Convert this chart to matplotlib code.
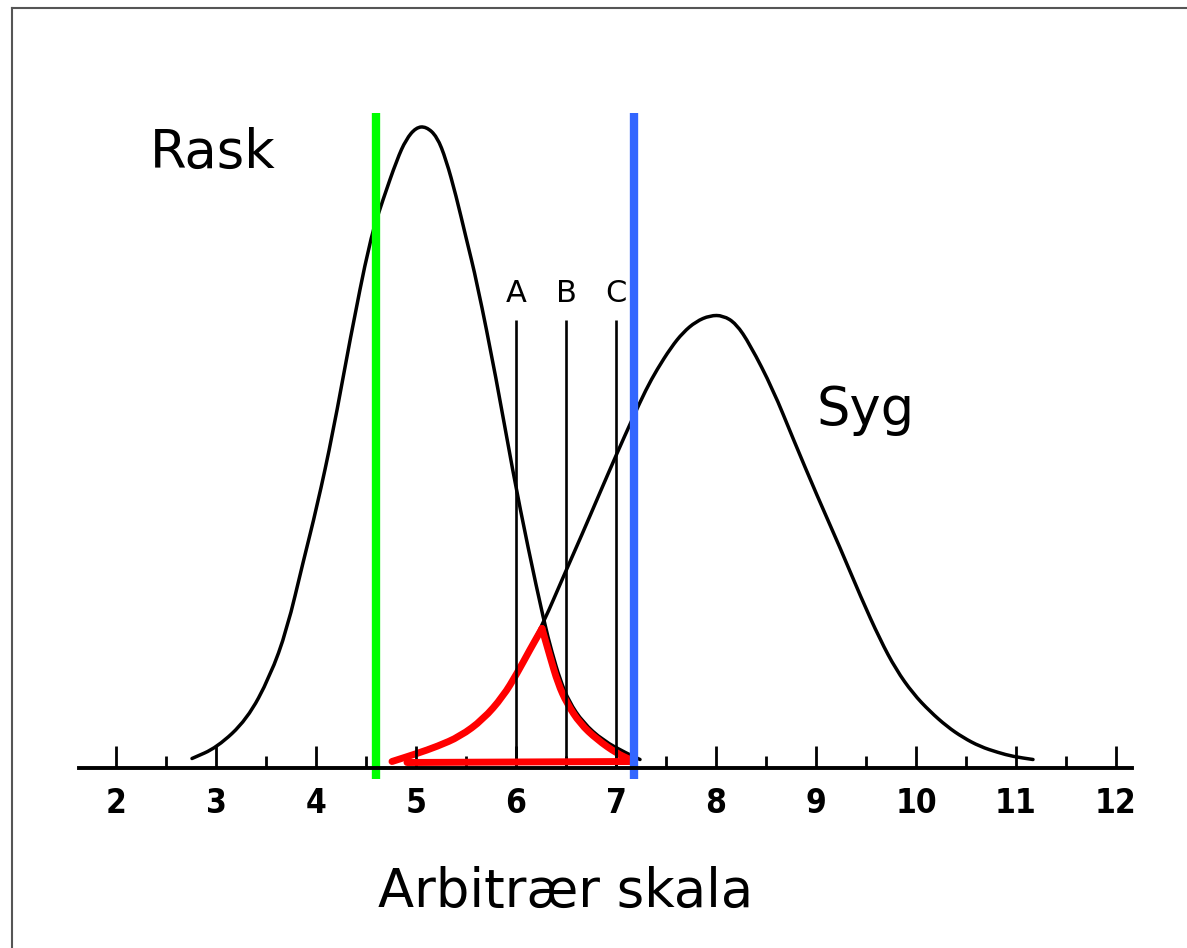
import numpy as np
import matplotlib
matplotlib.use("Agg")
import matplotlib.pyplot as plt
from matplotlib.lines import Line2D
from matplotlib.path import Path
from matplotlib.patches import PathPatch

# Rask fordeling
rask_x = [2.76, 3.01, 3.31, 3.54, 3.71, 3.87, 4.01, 4.17, 4.34, 4.54, 4.67, 4.81,
          4.90, 5.00, 5.10, 5.21, 5.30, 5.40, 5.50, 5.61, 5.80, 5.97, 6.12, 6.28,
          6.36, 6.44, 6.53, 6.67, 6.87, 7.11, 7.24]
rask_y = [0.09, 0.20, 0.48, 0.91, 1.38, 2.05, 2.61, 3.35, 4.28, 5.28, 5.68, 6.08,
          6.28, 6.40, 6.41, 6.31, 6.08, 5.72, 5.30, 4.85, 3.90, 2.95, 2.20, 1.46,
          1.15, 0.88, 0.66, 0.45, 0.27, 0.14, 0.08]

# Syg fordeling
syg_x = [4.77, 5.01, 5.21, 5.44, 5.67, 5.87, 6.01, 6.14, 6.28, 6.47, 6.66, 6.84,
         7.00, 7.17, 7.30, 7.41, 7.55, 7.67, 7.80, 7.94, 8.07, 8.20, 8.34, 8.57,
         8.77, 9.01, 9.24, 9.45, 9.64, 9.80, 9.97, 10.14, 10.31, 10.47, 10.64,
         10.82, 10.97, 11.17]
syg_y = [0.06, 0.15, 0.22, 0.32, 0.49, 0.72, 0.96, 1.19, 1.46, 1.90, 2.33, 2.75,
         3.12, 3.50, 3.78, 3.98, 4.20, 4.35, 4.46, 4.52, 4.52, 4.44, 4.23, 3.78,
         3.29, 2.72, 2.20, 1.70, 1.28, 0.98, 0.74, 0.56, 0.41, 0.30, 0.21, 0.15,
         0.11, 0.08]

# rød markering af overlap
roed_x = [4.91, 7.14, 7.14, 7.01, 6.81, 6.64, 6.51, 6.42, 6.34, 6.26, 6.14, 6.01,
          5.87, 5.67, 5.44, 5.21, 5.01, 4.76]
roed_y = [0.05, 0.06, 0.08, 0.14, 0.28, 0.44, 0.64, 0.84, 1.11, 1.39, 1.18, 0.94,
          0.71, 0.48, 0.31, 0.21, 0.14, 0.06]

graense_x = [6.0, 6.5, 7.0]
graense_navne = ["A", "B", "C"]
graense_top = 4.48

groen_x = 4.6
blaa_x = 7.18

hoved_ticks = list(range(2, 13))
mellem_ticks = [2.5, 3.5, 4.5, 5.5, 6.5, 7.5, 8.5, 9.5, 10.5, 11.5]


def blød_kurve(ax, xs, ys, **kw):
    # kvadratiske bezier-stykker mellem midtpunkter, så kurven bliver glat
    p = np.column_stack([xs, ys])
    verts = [p[0], (p[0] + p[1]) / 2]
    codes = [Path.MOVETO, Path.LINETO]
    for i in range(1, len(p) - 1):
        verts += [p[i], (p[i] + p[i + 1]) / 2]
        codes += [Path.CURVE3, Path.CURVE3]
    verts.append(p[-1])
    codes.append(Path.LINETO)
    ax.add_patch(PathPatch(Path(verts, codes), fill=False, **kw))


fig = plt.figure(figsize=(11.87, 9.48), dpi=100)
ax = fig.add_axes([0, 0, 1, 1])
ax.set_xlim(0.84, 12.71)
ax.set_ylim(-1.805, 7.675)

for s in ["left", "right", "top"]:
    ax.spines[s].set_visible(False)
ax.spines["bottom"].set_position(("data", 0))
ax.spines["bottom"].set_bounds(1.63, 12.16)
ax.spines["bottom"].set_linewidth(2.8)
ax.yaxis.set_visible(False)

ax.set_xticks(hoved_ticks)
ax.set_xticks(mellem_ticks, minor=True)
ax.tick_params(axis="x", which="major", direction="in", length=16, width=2.0, pad=14)
ax.tick_params(axis="x", which="minor", direction="in", length=9, width=2.0)
for lbl in ax.get_xticklabels():
    lbl.set_family("DejaVu Sans")
    lbl.set_fontstretch("condensed")
    lbl.set_fontweight("bold")
    lbl.set_fontsize(24)

blød_kurve(ax, rask_x, rask_y, edgecolor="black", lw=2.5, capstyle="round")
blød_kurve(ax, syg_x, syg_y, edgecolor="black", lw=2.5, capstyle="round")

ax.vlines(graense_x, 0, graense_top, color="black", lw=1.9)
for gx, navn in zip(graense_x, graense_navne):
    ax.text(gx, 4.66, navn, ha="center", va="baseline", fontsize=22,
            family="DejaVu Sans")

# rød: bundlinje + to glatte grene mødes i en spids top
top_i = int(np.argmax(roed_y))
ax.plot(roed_x[:3], roed_y[:3], color="#ff0000", lw=5, solid_joinstyle="round",
        solid_capstyle="round")
blød_kurve(ax, roed_x[2:top_i + 1], roed_y[2:top_i + 1], edgecolor="#ff0000",
           lw=5, capstyle="round", joinstyle="round")
blød_kurve(ax, roed_x[top_i:], roed_y[top_i:], edgecolor="#ff0000",
           lw=5, capstyle="round", joinstyle="round")

ax.vlines([groen_x], -0.11, 6.55, color="#00ff00", lw=6)
ax.vlines([blaa_x], -0.11, 6.55, color="#3366ff", lw=6)

ax.text(2.34, 6.0, "Rask", fontsize=38, ha="left", va="baseline")
ax.text(9.01, 3.43, "Syg", fontsize=38, ha="left", va="baseline")
ax.text(4.62, -1.39, "Arbitrær skala", fontsize=38, ha="left", va="baseline")

# ramme fra scanningen
fig.add_artist(Line2D([12 / 1187, 12 / 1187], [0, 1 - 8 / 948], transform=fig.transFigure,
                      color="#555555", lw=1.5))
fig.add_artist(Line2D([12 / 1187, 1], [1 - 8 / 948, 1 - 8 / 948], transform=fig.transFigure,
                      color="#555555", lw=1.5))

fig.savefig("out.png", dpi=100, facecolor="white")
